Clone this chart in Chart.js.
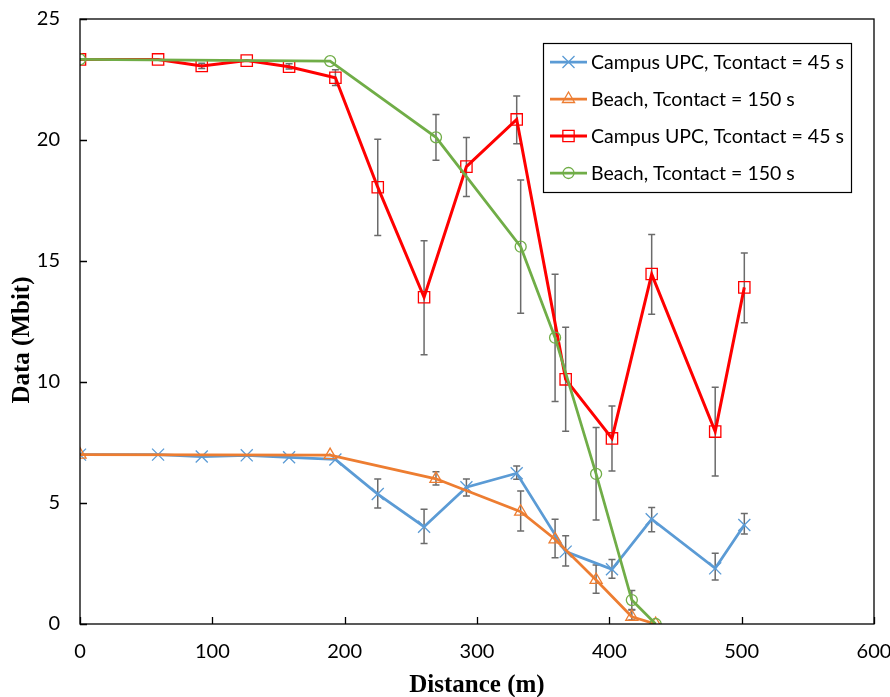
<!DOCTYPE html>
<html>
<head>
<meta charset="utf-8">
<script src="https://cdn.jsdelivr.net/npm/chart.js@4.4.1/dist/chart.umd.min.js"></script>
<style>
  html, body { margin: 0; padding: 0; background: #fff; }
  #wrap { width: 890px; height: 697px; position: relative; }
</style>
</head>
<body>
<div id="wrap"><canvas id="data_chart"></canvas></div>
<script>
// distances (m)
const campus_dist = [0, 59, 92, 126, 158, 193, 225, 260, 292, 330, 367, 402, 432, 480, 502];
const beach_dist = [0, 189, 269, 333, 359, 390, 417, 435];

// series 1: Campus UPC (blue)
const campus_a = [7.0, 7.0, 6.92, 6.97, 6.89, 6.8, 5.37, 4.02, 5.65, 6.23, 2.99, 2.26, 4.33, 2.3, 4.09];
const campus_a_low = [null, null, null, null, null, null, 4.79, 3.33, 5.29, 5.98, 2.4, 1.89, 3.81, 1.82, 3.72];
const campus_a_high = [null, null, null, null, null, null, 5.99, 4.74, 5.99, 6.53, 3.65, 2.67, 4.81, 2.92, 4.57];

// series 2: Beach (orange)
const beach_a = [7.0, 6.98, 6.0, 4.64, 3.5, 1.82, 0.3, 0];
const beach_a_low = [null, null, 5.74, 3.84, 2.74, 1.27, 0.17, null];
const beach_a_high = [null, null, 6.29, 5.5, 4.33, 2.44, 0.58, null];

// series 3: Campus UPC (red)
const campus_b = [23.33, 23.33, 23.06, 23.28, 23.03, 22.57, 18.05, 13.5, 18.9, 20.85, 10.11, 7.67, 14.46, 7.95, 13.91];
const campus_b_low = [null, null, 22.95, null, 22.93, 22.25, 16.05, 11.13, 17.67, 19.85, 7.96, 6.32, 12.8, 6.12, 12.45];
const campus_b_high = [null, null, 23.17, null, 23.15, 22.9, 20.03, 15.84, 20.1, 21.82, 12.26, 9.01, 16.09, 9.78, 15.33];

// series 4: Beach (green)
const beach_b = [23.33, 23.26, 20.11, 15.59, 11.83, 6.2, 0.99, 0];
const beach_b_low = [null, null, 19.16, 12.84, 9.19, 4.3, 0.6, null];
const beach_b_high = [null, null, 21.05, 18.35, 14.45, 8.12, 1.38, null];

const series_labels = [
    'Campus UPC, Tcontact = 45 s',
    'Beach, Tcontact = 150 s',
    'Campus UPC, Tcontact = 45 s',
    'Beach, Tcontact = 150 s'
];

const x_ticks = [0, 100, 200, 300, 400, 500, 600];
const y_ticks = [0, 5, 10, 15, 20, 25];

const tick_font = { family: 'Lato, "Open Sans", sans-serif', size: 20 };

function to_points(xs, ys, lows, highs) {
    return xs.map((x, i) => ({ x: x, y: ys[i], lo: lows[i], hi: highs[i] }));
}

function make_set(label, points, color, style, radius, width, order) {
    return {
        label: label,
        data: points,
        borderColor: color,
        backgroundColor: 'rgba(0,0,0,0)',
        borderWidth: width,
        pointStyle: style,
        pointRadius: radius,
        pointHoverRadius: radius,
        pointBorderColor: color,
        pointBackgroundColor: 'rgba(0,0,0,0)',
        pointBorderWidth: 1.3,
        tension: 0,
        fill: false,
        order: order
    };
}

// fixed room round the plot box
function fix_pad(s, right) {
    s.paddingTop = 0; s.paddingBottom = 0;
    s.paddingLeft = 0; s.paddingRight = right;
}

// error bars, drawn under the lines
const error_bars = {
    id: 'error_bars',
    beforeDatasetsDraw(chart) {
        const ctx = chart.ctx;
        const xs = chart.scales.x, ys = chart.scales.y;
        ctx.save();
        ctx.strokeStyle = '#6b6b6b';
        ctx.lineWidth = 1.5;
        chart.data.datasets.forEach(ds => {
            ds.data.forEach(p => {
                if (p.lo == null || p.hi == null) return;
                const px = xs.getPixelForValue(p.x);
                const y1 = ys.getPixelForValue(p.lo);
                const y2 = ys.getPixelForValue(p.hi);
                ctx.beginPath();
                ctx.moveTo(px, y1); ctx.lineTo(px, y2);
                ctx.moveTo(px - 3.5, y1); ctx.lineTo(px + 3.5, y1);
                ctx.moveTo(px - 3.5, y2); ctx.lineTo(px + 3.5, y2);
                ctx.stroke();
            });
        });
        ctx.restore();
    }
};

// box round the plot (taken from the scales) plus inward ticks
const frame = {
    id: 'frame',
    afterDatasetsDraw(chart) {
        const ctx = chart.ctx;
        const xs = chart.scales.x, ys = chart.scales.y;
        const left = xs.getPixelForValue(0), right = xs.getPixelForValue(600);
        const top = ys.getPixelForValue(25), bottom = ys.getPixelForValue(0);
        ctx.save();
        ctx.strokeStyle = '#000';
        ctx.lineWidth = 1.3;
        ctx.strokeRect(left, top, right - left, bottom - top);
        ctx.beginPath();
        x_ticks.forEach(v => {
            const px = Math.round(xs.getPixelForValue(v)) + 0.5;
            ctx.moveTo(px, bottom); ctx.lineTo(px, bottom - 7);
        });
        y_ticks.forEach(v => {
            const py = Math.round(ys.getPixelForValue(v)) + 0.5;
            ctx.moveTo(left, py); ctx.lineTo(left + 7, py);
        });
        ctx.stroke();
        ctx.restore();
    }
};

// axis titles and the boxed legend
const extras = {
    id: 'extras',
    afterDraw(chart) {
        const ctx = chart.ctx;
        ctx.save();
        ctx.fillStyle = '#000';
        ctx.font = 'bold 25px "Liberation Serif", "Times New Roman", serif';
        ctx.textAlign = 'center';
        ctx.textBaseline = 'middle';
        ctx.fillText('Distance (m)', 477, 686);
        ctx.save();
        ctx.translate(23, 340);
        ctx.rotate(-Math.PI / 2);
        ctx.fillText('Data (Mbit)', 0, 0);
        ctx.restore();

        // legend
        ctx.strokeStyle = '#000';
        ctx.lineWidth = 1.2;
        ctx.strokeRect(543.5, 43.5, 308, 149);
        ctx.font = '19.5px Lato, "Open Sans", sans-serif';
        ctx.textAlign = 'left';
        const rows = [62, 99, 136, 173];
        chart.data.datasets.forEach((ds, i) => {
            const y = rows[i];
            ctx.strokeStyle = ds.borderColor;
            ctx.lineWidth = ds.borderWidth;
            ctx.beginPath();
            ctx.moveTo(550, y); ctx.lineTo(587, y);
            ctx.stroke();
            ctx.lineWidth = 1.3;
            ctx.fillStyle = 'rgba(0,0,0,0)';
            Chart.helpers.drawPoint(ctx, {
                pointStyle: ds.pointStyle, radius: ds.pointRadius,
                borderWidth: 1.3, rotation: 0
            }, 568.5, y);
            ctx.fillStyle = '#000';
            ctx.fillText(ds.label, 591, y + 1);
        });
        ctx.restore();
    }
};

const ctx = document.getElementById('data_chart').getContext('2d');
window.myChart = new Chart(ctx, {
    type: 'line',
    data: {
        datasets: [
            make_set(series_labels[0], to_points(campus_dist, campus_a, campus_a_low, campus_a_high), '#5B9BD5', 'crossRot', 8.5, 2.75, 4),
            make_set(series_labels[1], to_points(beach_dist, beach_a, beach_a_low, beach_a_high), '#ED7D31', 'triangle', 7, 2.75, 3),
            make_set(series_labels[2], to_points(campus_dist, campus_b, campus_b_low, campus_b_high), '#FF0000', 'rect', 8, 3, 2),
            make_set(series_labels[3], to_points(beach_dist, beach_b, beach_b_low, beach_b_high), '#70AD47', 'circle', 5.5, 2.75, 1)
        ]
    },
    options: {
        responsive: true,
        maintainAspectRatio: false,
        animation: false,
        layout: { padding: { top: 19, right: 16, left: 0, bottom: 0 } },
        scales: {
            x: {
                type: 'linear',
                min: 0,
                max: 600,
                afterBuildTicks: s => { s.ticks = x_ticks.map(v => ({ value: v })); },
                afterFit: s => { s.height = 73; fix_pad(s, 16); },
                grid: { display: false, drawTicks: false },
                border: { display: false },
                ticks: { color: '#000', font: tick_font, padding: 16, maxRotation: 0 }
            },
            y: {
                min: 0,
                max: 25,
                afterBuildTicks: s => { s.ticks = y_ticks.map(v => ({ value: v })); },
                afterFit: s => { s.width = 80; fix_pad(s, 0); },
                grid: { display: false, drawTicks: false },
                border: { display: false },
                ticks: { color: '#000', font: tick_font, padding: 20 }
            }
        },
        plugins: {
            legend: { display: false },
            tooltip: { enabled: false }
        }
    },
    plugins: [error_bars, frame, extras]
});
</script>
</body>
</html>
